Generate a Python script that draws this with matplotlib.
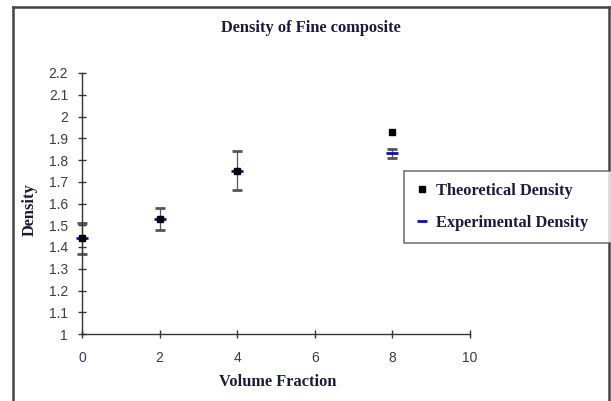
import matplotlib
matplotlib.use("Agg")
import matplotlib.pyplot as plt
from matplotlib.lines import Line2D

# Data
volume_fraction = [0, 2, 4, 8]
theoretical_density = [1.44, 1.53, 1.75, 1.93]
experimental_density = [1.44, 1.53, 1.75, 1.83]
experimental_error = [0.07, 0.05, 0.09, 0.02]

x_ticks = [0, 2, 4, 6, 8, 10]
y_ticks = [1, 1.1, 1.2, 1.3, 1.4, 1.5, 1.6, 1.7, 1.8, 1.9, 2, 2.1, 2.2]
y_tick_labels = ["1", "1.1", "1.2", "1.3", "1.4", "1.5", "1.6", "1.7", "1.8", "1.9", "2", "2.1", "2.2"]

serif_bold = dict(family="Liberation Serif", weight="bold", color="#1a1a3a")

fig = plt.figure(figsize=(6.11, 4.01), dpi=100)
fig.patch.set_facecolor("white")
ax = fig.add_axes([82 / 611, 1 - 334 / 401, (470 - 82) / 611, (334 - 73) / 401])

eb = ax.errorbar(volume_fraction, experimental_density, yerr=experimental_error,
                 fmt="_", color="#1010a0", ecolor="#555555", elinewidth=0.9,
                 capsize=3.5, capthick=1.0, markersize=8, markeredgewidth=2,
                 label="Experimental Density", zorder=2)
pts, = ax.plot(volume_fraction, theoretical_density, "s", color="black",
               markersize=4.5, label="Theoretical Density", zorder=3)
for art in [pts, eb.lines[0]] + list(eb.lines[1]) + list(eb.lines[2]):
    art.set_clip_on(False)

ax.set_xlim(0, 10)
ax.set_ylim(1, 2.2)
ax.set_xticks(x_ticks)
ax.set_yticks(y_ticks)
ax.set_yticklabels(y_tick_labels)
for s in ["top", "right"]:
    ax.spines[s].set_visible(False)
for s in ["left", "bottom"]:
    ax.spines[s].set_color("#333333")
    ax.spines[s].set_linewidth(1.0)
ax.tick_params(direction="inout", length=6, width=1, color="#333333",
               labelsize=10, labelcolor="#3a3a50")
ax.tick_params(axis="x", pad=9)
ax.tick_params(axis="y", pad=7)
for lab in ax.get_xticklabels() + ax.get_yticklabels():
    lab.set_family("Liberation Sans")

fig.text(311 / 611, 1 - 28 / 401, "Density of Fine composite", ha="center",
         va="center", fontsize=11.8, **serif_bold)
fig.text(278 / 611, 1 - 382 / 401, "Volume Fraction", ha="center",
         va="center", fontsize=11.8, **serif_bold)
fig.text(30 / 611, 1 - 210 / 401, "Density", ha="center", va="center",
         rotation=90, fontsize=11.8, **serif_bold)

handles = [
    Line2D([], [], marker="s", linestyle="none", color="black", markersize=4.5),
    Line2D([], [], marker="_", linestyle="none", color="#1010a0",
           markersize=7, markeredgewidth=2),
]
leg = fig.legend(handles, ["Theoretical Density", "Experimental Density"],
                 loc="lower left",
                 bbox_to_anchor=(404 / 611, 1 - 243 / 401, 215 / 611, 73 / 401),
                 mode="expand", borderaxespad=0, frameon=True, fancybox=False,
                 edgecolor="#555555", handlelength=0.7, handletextpad=0.5,
                 labelspacing=0.95, borderpad=0.75,
                 prop=dict(family="Liberation Serif", weight="bold", size=11.8))
leg.get_frame().set_linewidth(1.2)
for t in leg.get_texts():
    t.set_color("#1a1a3a")

# Outer frame around the chart
frame_kw = dict(color="#444444", linewidth=1.8, transform=fig.transFigure)
fig.add_artist(Line2D([13 / 611, 609 / 611], [1 - 7 / 401, 1 - 7 / 401], **frame_kw))
fig.add_artist(Line2D([13 / 611, 13 / 611], [0, 1 - 7 / 401], **frame_kw))
fig.add_artist(Line2D([609 / 611, 609 / 611], [0, 1 - 7 / 401], **frame_kw))

fig.savefig("out.png", dpi=100, facecolor="white")
